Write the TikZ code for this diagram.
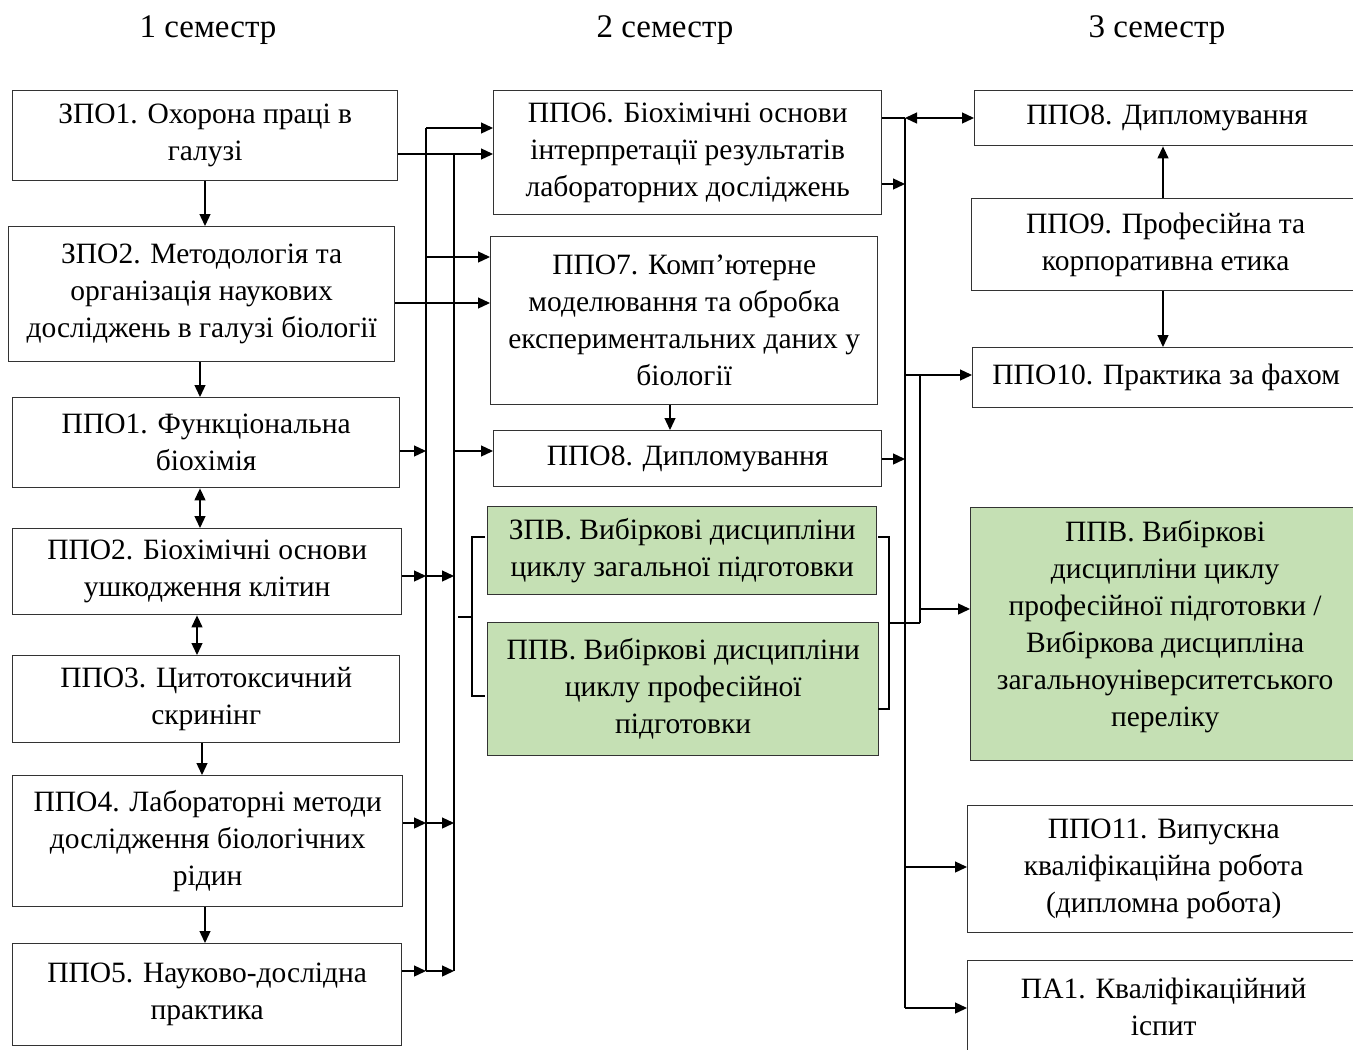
\documentclass[tikz,border=0pt]{standalone}
\usepackage{fontspec}
\setmainfont{Liberation Serif}
\usetikzlibrary{arrows.meta,calc}
\definecolor{grn}{HTML}{C5E0B4}
\begin{document}
\begin{tikzpicture}[x=1pt,y=-1pt,
 box/.style={draw=black!80, line width=1.4pt, align=center, anchor=north west, inner sep=0pt, font=\fontsize{29.5}{37}\selectfont},
 gbox/.style={box, fill=grn},
 ln/.style={line width=1.3pt},
 arr/.style={line width=1.3pt, -{Triangle[length=12pt,width=11pt]}},
 darr/.style={line width=1.3pt, {Triangle[length=12pt,width=11pt]}-{Triangle[length=12pt,width=11pt]}},
 hdr/.style={font=\fontsize{33}{36}\selectfont}]
\useasboundingbox (0,0) rectangle (1353,1050);
\clip (0,0) rectangle (1353,1050);

% headers
\node[hdr] (h1) at (208,30) {1 семестр};
\node[hdr] (h2) at (665,30) {2 семестр};
\node[hdr] (h3) at (1157,30) {3 семестр};

% column 1
\node[box, minimum width=385, minimum height=90] (z1) at (12,90) {ЗПО1. Охорона праці в\\галузі};
\node[box, minimum width=386, minimum height=135] (z2) at (8,226) {ЗПО2. Методологія та\\організація наукових\\досліджень в галузі біології};
\node[box, minimum width=387, minimum height=90] (p1) at (12,397) {ППО1. Функціональна\\біохімія};
\node[box, minimum width=389, minimum height=86] (p2) at (12,528) {ППО2. Біохімічні основи\\ушкодження клітин};
\node[box, minimum width=387, minimum height=87] (p3) at (12,655) {ППО3. Цитотоксичний\\скринінг};
\node[box, minimum width=390, minimum height=131] (p4) at (12,775) {ППО4. Лабораторні методи\\дослідження біологічних\\рідин};
\node[box, minimum width=389, minimum height=102] (p5) at (12,943) {ППО5. Науково-дослідна\\практика};

% column 2
\node[box, minimum width=388, minimum height=124] (p6) at (493,90) {ППО6. Біохімічні основи\\інтерпретації результатів\\лабораторних досліджень};
\node[box, minimum width=387, minimum height=168] (p7) at (490,236) {ППО7. Комп’ютерне\\моделювання та обробка\\експериментальних даних у\\біології};
\node[box, minimum width=388, minimum height=56] (p8b) at (493,430) {ППО8. Дипломування};
\node[gbox, minimum width=389, minimum height=88] (zpv) at (487,506) {ЗПВ. Вибіркові дисципліни\\циклу загальної підготовки};
\node[gbox, minimum width=391, minimum height=133] (ppv2) at (487,622) {ППВ. Вибіркові дисципліни\\циклу професійної\\підготовки};

% column 3
\node[box, minimum width=385, minimum height=55] (p8c) at (974,90) {ППО8. Дипломування};
\node[box, minimum width=388, minimum height=92] (p9) at (971,198) {ППО9. Професійна та\\корпоративна етика};
\node[box, minimum width=387, minimum height=60] (p10) at (972,347) {ППО10. Практика за фахом};
\node[gbox, minimum width=389, minimum height=253, text depth=22pt] (ppv3) at (970,507) {ППВ. Вибіркові\\дисципліни циклу\\професійної підготовки /\\Вибіркова дисципліна\\загальноуніверситетського\\переліку};
\node[box, minimum width=392, minimum height=127] (p11) at (967,805) {ППО11. Випускна\\кваліфікаційна робота\\(дипломна робота)};
\node[box, minimum width=392, minimum height=92] (pa1) at (967,960) {ПА1. Кваліфікаційний\\іспит};

% vertical arrows
\coordinate (v200) at (200,0);
\coordinate (v197) at (197,0);
\coordinate (v202) at (202,0);
\coordinate (v205) at (205,0);
\coordinate (v670) at (670,0);
\coordinate (v1163) at (1163,0);
\draw[arr] (z1.south -| v205) -- (z2.north -| v205);
\draw[arr] (z2.south -| v200) -- (p1.north -| v200);
\draw[darr] (p1.south -| v200) -- (p2.north -| v200);
\draw[darr] (p2.south -| v197) -- (p3.north -| v197);
\draw[arr] (p3.south -| v202) -- (p4.north -| v202);
\draw[arr] (p4.south -| v205) -- (p5.north -| v205);
\draw[arr] (p7.south -| v670) -- (p8b.north -| v670);
\draw[arr] (p9.north -| v1163) -- (p8c.south -| v1163);
\draw[arr] (p9.south -| v1163) -- (p10.north -| v1163);

% left buses
\coordinate (b1t) at (426,128);
\coordinate (b1b) at (426,971);
\coordinate (b2t) at (454,154);
\coordinate (b2b) at (454,971);
\draw[ln] (b1t) -- (b1b);
\draw[ln] (b2t) -- (b2b);
\draw[arr] (b1t) -- (b1t -| p6.west);
\draw[arr] (z1.east |- b2t) -- (b2t -| p6.west);
\coordinate (r257) at (426,257);
\draw[arr] (r257) -- (r257 -| p7.west);
\coordinate (r303) at (0,303);
\draw[arr] (z2.east |- r303) -- (r303 -| p7.west);
\coordinate (r451) at (426,451);
\draw[arr] (p1.east |- r451) -- (r451);
\coordinate (r451b) at (454,451);
\draw[arr] (r451b) -- (r451b -| p8b.west);
\coordinate (r576) at (426,576);
\draw[arr] (p2.east |- r576) -- (r576);
\draw[arr] (r576) -- (r576 -| b2t);
\coordinate (r823) at (426,823);
\draw[arr] (p4.east |- r823) -- (r823);
\draw[arr] (r823) -- (r823 -| b2t);
\draw[arr] (p5.east |- b1b) -- (b1b);
\draw[arr] (b1b) -- (b2b);

% left bracket
\coordinate (lb1) at (485,537);
\coordinate (lb2) at (472,537);
\coordinate (lb3) at (472,696);
\coordinate (lb4) at (485,696);
\coordinate (lbm) at (472,617);
\coordinate (lbs) at (458,617);
\draw[ln] (lb1) -- (lb2) -- (lb3) -- (lb4);
\draw[ln] (lbs) -- (lbm);

% right buses
\coordinate (c1t) at (905,118);
\coordinate (c1b) at (905,1008);
\draw[ln] (c1t) -- (c1b);
\draw[ln] (p6.east |- c1t) -- (c1t);
\draw[darr] (c1t) -- (c1t -| p8c.west);
\coordinate (r184) at (905,184);
\draw[arr] (p6.east |- r184) -- (r184);
\coordinate (r459) at (905,459);
\draw[arr] (p8b.east |- r459) -- (r459);
\coordinate (r375) at (905,375);
\draw[arr] (r375) -- (r375 -| p10.west);
\coordinate (c2t) at (920,375);
\coordinate (c2b) at (920,623);
\draw[ln] (c2t) -- (c2b);
\coordinate (r609) at (920,609);
\draw[arr] (r609) -- (r609 -| ppv3.west);
\coordinate (r867) at (905,867);
\draw[arr] (r867) -- (r867 -| p11.west);
\draw[arr] (c1b) -- (c1b -| pa1.west);

% right bracket
\coordinate (rb1) at (878,537);
\coordinate (rb2) at (889,537);
\coordinate (rb3) at (889,709);
\coordinate (rb4) at (878,709);
\coordinate (rbm) at (889,623);
\draw[ln] (rb1) -- (rb2) -- (rb3) -- (rb4);
\draw[ln] (rbm) -- (c2b);
\end{tikzpicture}
\end{document}
